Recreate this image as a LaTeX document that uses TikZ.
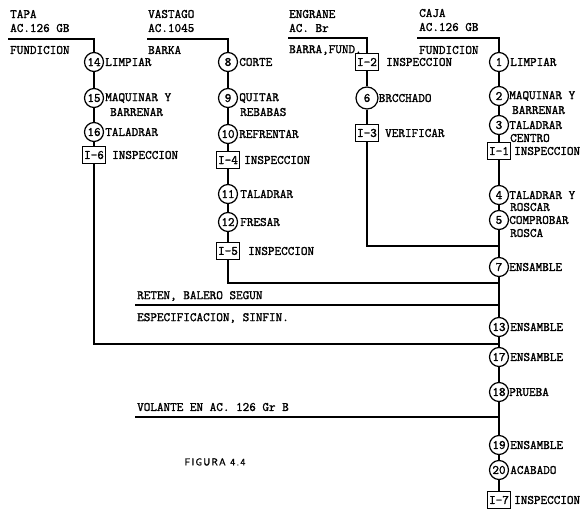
\documentclass[tikz,border=0pt]{standalone}
\usepackage{fontspec}
\newfontfamily\typew{Latin Modern Mono}[FakeBold=1.6]
\newfontfamily\figfont{Latin Modern Sans}[FakeBold=1.2,LetterSpace=12]
\begin{document}
\begin{tikzpicture}[x=1pt,y=-1pt,
  every node/.style={font=\typew\fontsize{12.8}{13}\selectfont},
  op/.style={circle, draw, line width=1.2pt, minimum size=19pt, inner sep=0pt},
  opbig/.style={op, minimum size=22pt},
  insp/.style={rectangle, draw, line width=1.2pt, minimum width=23pt, minimum height=17pt, inner sep=0.5pt},
  lbl/.style={anchor=west, inner sep=0pt},
  ln/.style={line width=1.2pt}]
\useasboundingbox (0,0) rectangle (586,514);

% ---------------- TAPA column ----------------
\node[lbl] (tapa1) at (10,14) {TAPA};
\node[lbl] (tapa2) at (10,28) {AC.126 GB};
\node[lbl] (tapa3) at (10,50) {FUNDICION};
\coordinate (tapaL) at (8,39);
\node[op] (c14) at (94,62) {14};
\node[lbl] (l14) at ([xshift=1pt]c14.east) {LIMPIAR};
\node[op] (c15) at (94,98) {15};
\node[lbl] (l15) at ([xshift=1pt]c15.east) {MAQUINAR Y};
\node[lbl] (l15b) at (110,112) {BARRENAR};
\node[op] (c16) at (94,132) {16};
\node[lbl] (l16) at ([xshift=1pt]c16.east) {TALADRAR};
\node[insp] (i6) at (94,155) {I-6};
\node[lbl] (li6) at (112,155) {INSPECCION};

% ---------------- VASTAGO column ----------------
\node[lbl] (vas1) at (148,14) {VASTAGO};
\node[lbl] (vas2) at (148,28) {AC.1045};
\node[lbl] (vas3) at (148,50) {BARKA};
\coordinate (vasL) at (147,39);
\node[op] (c8) at (228,62) {8};
\node[lbl] (l8) at ([xshift=1pt]c8.east) {CORTE};
\node[op] (c9) at (228,98) {9};
\node[lbl] (l9) at ([xshift=1pt]c9.east) {QUITAR};
\node[lbl] (l9b) at (240,112) {REBABAS};
\node[op] (c10) at (228,134) {10};
\node[lbl] (l10) at ([xshift=1pt]c10.east) {REFRENTAR};
\node[insp] (i4) at (228,160) {I-4};
\node[lbl] (li4) at (244,160) {INSPECCION};
\node[op] (c11) at (228,194) {11};
\node[lbl] (l11) at ([xshift=2pt]c11.east) {TALADRAR};
\node[op] (c12) at (228,222) {12};
\node[lbl] (l12) at ([xshift=2pt]c12.east) {FRESAR};
\node[insp] (i5) at (228,251) {I-5};
\node[lbl] (li5) at (248,251) {INSPECCION};

% ---------------- ENGRANE column ----------------
\node[lbl] (eng1) at (289,14) {ENGRANE};
\node[lbl] (eng2) at (289,28) {AC. Br};
\node[lbl] (eng3) at (289,50) {BARRA,FUND.};
\coordinate (engL) at (288,38);
\node[insp] (i2) at (367,62) {I-2};
\node[lbl] (li2) at (386,62) {INSPECCION};
\node[opbig] (c6) at (367,98) {6};
\node[lbl] (l6) at ([xshift=0pt]c6.east) {BRCCHADO};
\node[insp] (i3) at (367,133) {I-3};
\node[lbl] (li3) at (385,133) {VERIFICAR};

% ---------------- CAJA column ----------------
\node[lbl] (caja1) at (419,13) {CAJA};
\node[lbl] (caja2) at (419,27) {AC.126 GB};
\node[lbl] (caja3) at (419,50) {FUNDICION};
\coordinate (cajaL) at (417,38);
\node[op] (c1) at (499,62) {1};
\node[lbl] (l1) at ([xshift=1pt]c1.east) {LIMPIAR};
\node[op] (c2) at (499,96) {2};
\node[lbl] (l2) at ([xshift=0pt]c2.east) {MAQUINAR Y};
\node[lbl] (l2b) at (512,110) {BARRENAR};
\node[op] (c3) at (499,125) {3};
\node[lbl] (l3) at ([xshift=0pt]c3.east) {TALADRAR};
\node[lbl] (l3b) at (510,138) {CENTRO};
\node[insp] (i1) at (499,151) {I-1};
\node[lbl] (li1) at (514,151) {INSPECCION};
\node[op] (c4) at (499,195) {4};
\node[lbl] (l4) at ([xshift=0pt]c4.east) {TALADRAR Y};
\node[lbl] (l4b) at (510,207) {ROSCAR};
\node[op] (c5) at (499,220) {5};
\node[lbl] (l5) at ([xshift=0pt]c5.east) {COMPROBAR};
\node[lbl] (l5b) at (510,233) {ROSCA};
\node[op] (c7) at (499,267) {7};
\node[lbl] (l7) at ([xshift=0pt]c7.east) {ENSAMBLE};
\node[op] (c13) at (499,327) {13};
\node[lbl] (l13) at ([xshift=1pt]c13.east) {ENSAMBLE};
\node[op] (c17) at (499,357) {17};
\node[lbl] (l17) at ([xshift=1pt]c17.east) {ENSAMBLE};
\node[op] (c18) at (499,392) {18};
\node[lbl] (l18) at ([xshift=0pt]c18.east) {PRUEBA};
\node[op] (c19) at (499,445) {19};
\node[lbl] (l19) at ([xshift=1pt]c19.east) {ENSAMBLE};
\node[op] (c20) at (499,470) {20};
\node[lbl] (l20) at ([xshift=1pt]c20.east) {ACABADO};
\node[insp] (i7) at (499,500) {I-7};
\node[lbl] (li7) at (514,500) {INSPECCION};

% ---------------- side inputs ----------------
\node[lbl] (ret1) at (137,296) {RETEN, BALERO SEGUN};
\node[lbl] (ret2) at (137,318) {ESPECIFICACION, SINFIN.};
\coordinate (retL) at (135,305);
\node[lbl] (vol1) at (137,407) {VOLANTE EN AC. 126 Gr B};
\coordinate (volL) at (135,417);
\node (fig) at (215,462) {\figfont\fontsize{10}{10}\selectfont FIGURA 4.4};

% junctions on the main line
\coordinate (j1) at (499,246);
\coordinate (j2) at (499,283);
\coordinate (j3) at (499,305);
\coordinate (j4) at (499,344);
\coordinate (j5) at (499,417);

% ---------------- connectors ----------------
\draw[ln] (tapaL) -| (c14);
\draw[ln] (c14) -- (c15);
\draw[ln] (c15) -- (c16);
\draw[ln] (c16) -- (i6);
\draw[ln] (i6) |- (j4);

\draw[ln] (vasL) -| (c8);
\draw[ln] (c8) -- (c9);
\draw[ln] (c9) -- (c10);
\draw[ln] (c10) -- (i4);
\draw[ln] (i4) -- (c11);
\draw[ln] (c11) -- (c12);
\draw[ln] (c12) -- (i5);
\draw[ln] (i5) |- (j2);

\draw[ln] (engL) -| (i2);
\draw[ln] (i2) -- (c6);
\draw[ln] (c6) -- (i3);
\draw[ln] (i3) |- (j1);

\draw[ln] (cajaL) -| (c1);
\draw[ln] (c1) -- (c2);
\draw[ln] (c2) -- (c3);
\draw[ln] (c3) -- (i1);
\draw[ln] (i1) -- (c4);
\draw[ln] (c4) -- (c5);
\draw[ln] (c5) -- (c7);
\draw[ln] (c7) -- (c13);
\draw[ln] (c13) -- (c17);
\draw[ln] (c17) -- (c18);
\draw[ln] (c18) -- (c19);
\draw[ln] (c19) -- (c20);
\draw[ln] (c20) -- (i7);

\draw[ln] (retL) -- (j3);
\draw[ln] (volL) -- (j5);
\end{tikzpicture}
\end{document}
